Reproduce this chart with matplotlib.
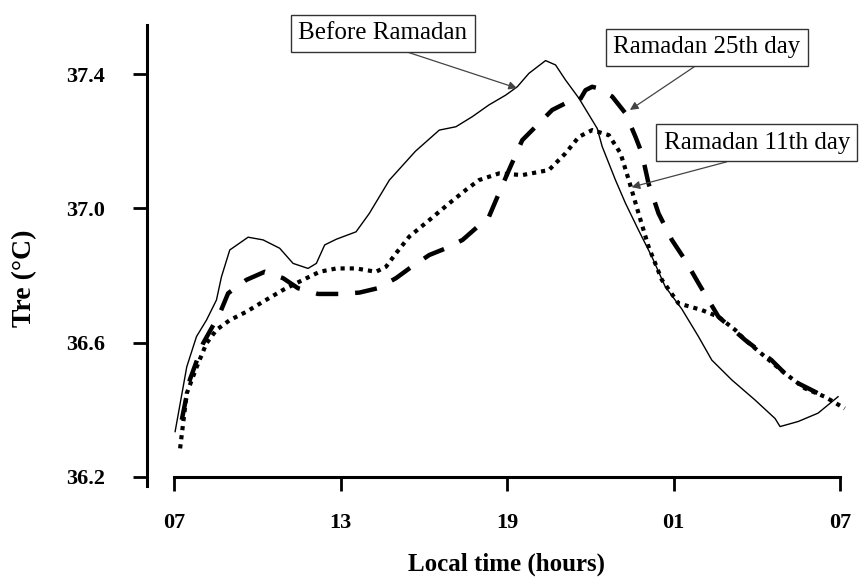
import matplotlib
matplotlib.use("Agg")
import matplotlib.pyplot as plt
import numpy as np

plt.rcParams['font.family'] = ['Liberation Serif', 'DejaVu Serif']

# hours after 07:00, rectal temperature (deg C)
hours_before = [0.04, 0.46, 0.81, 1.17, 1.53, 1.71, 2.01, 2.67, 3.21, 3.81, 4.29, 4.83,
                5.13, 5.43, 5.85, 6.56, 7.04, 7.76, 8.7, 9.56, 10.16, 10.75, 11.35, 11.95,
                12.37, 12.79, 13.39, 13.75, 14.11, 14.59, 15.25, 15.43, 15.67, 15.91, 16.27,
                16.74, 17.22, 17.70, 18.30, 18.90, 19.38, 20.10, 20.94, 21.66, 21.84, 22.49,
                23.21, 23.93]
temp_before = [36.335, 36.528, 36.618, 36.667, 36.727, 36.796, 36.876, 36.914, 36.906, 36.881,
               36.836, 36.821, 36.836, 36.891, 36.908, 36.930, 36.985, 37.084, 37.17, 37.233,
               37.243, 37.273, 37.308, 37.337, 37.362, 37.402, 37.440, 37.427, 37.382, 37.328,
               37.238, 37.184, 37.134, 37.084, 37.015, 36.935, 36.856, 36.767, 36.700, 36.618,
               36.548, 36.489, 36.429, 36.374, 36.350, 36.365, 36.390, 36.439]

hours_day25 = [0.28, 0.57, 1.05, 1.65, 1.95, 2.61, 3.27, 3.93, 4.47, 5.19, 5.96, 6.68, 7.34,
               8.00, 8.48, 9.20, 9.80, 10.40, 11.35, 11.71, 12.07, 12.55, 13.03, 13.63, 14.11,
               14.59, 14.83, 15.07, 15.31, 15.79, 16.27, 16.63, 16.86, 17.10, 17.46, 17.94,
               18.42, 18.90, 19.62, 20.58, 21.53, 22.25, 22.97, 23.69]
temp_day25 = [36.37, 36.489, 36.598, 36.687, 36.747, 36.787, 36.811, 36.792, 36.762, 36.745,
              36.745, 36.749, 36.762, 36.792, 36.821, 36.861, 36.881, 36.906, 36.975, 37.045,
              37.114, 37.203, 37.243, 37.293, 37.313, 37.318, 37.352, 37.362, 37.357, 37.333,
              37.283, 37.213, 37.164, 37.074, 36.985, 36.906, 36.846, 36.777, 36.677, 36.608,
              36.548, 36.489, 36.459, 36.429]

hours_day11 = [0.22, 0.46, 0.82, 1.17, 1.53, 2.01, 2.61, 3.21, 3.93, 4.65, 5.25, 5.85, 6.56,
               7.28, 7.64, 8.00, 8.48, 9.20, 9.92, 10.52, 10.99, 11.71, 12.55, 13.51, 14.11,
               14.59, 15.07, 15.67, 16.09, 16.39, 16.74, 17.10, 17.58, 18.18, 19.02, 19.62,
               20.22, 20.58, 21.30, 22.01, 22.73, 23.45, 24.17]
temp_day11 = [36.285, 36.449, 36.528, 36.598, 36.638, 36.667, 36.692, 36.722, 36.757, 36.787,
              36.811, 36.821, 36.821, 36.811, 36.826, 36.866, 36.916, 36.965, 37.015, 37.055,
              37.084, 37.104, 37.099, 37.114, 37.164, 37.213, 37.233, 37.218, 37.164, 37.084,
              36.985, 36.886, 36.787, 36.717, 36.697, 36.677, 36.638, 36.608, 36.558, 36.509,
              36.464, 36.439, 36.404]

x_ticks = [0, 6, 12, 18, 24]
x_labels = ['07', '13', '19', '01', '07']
y_ticks = [36.2, 36.6, 37.0, 37.4]
y_labels = ['36.2', '36.6', '37.0', '37.4']

fig = plt.figure(figsize=(8.59, 5.80), dpi=100)
ax = fig.add_axes([174 / 859, 94 / 580, 666 / 859, 461 / 580])

ax.plot(hours_before, temp_before, color='black', lw=1.0, clip_on=False)
ax.plot(hours_day25, temp_day25, color='black', lw=3.2, dashes=(5, 3.8), clip_on=False)
ax.plot(hours_day11, temp_day11, color='black', lw=3.0, dashes=(1.0, 1.2), clip_on=False)

ax.set_xlim(0, 24)
ax.set_ylim(36.173, 37.546)

ax.spines['top'].set_visible(False)
ax.spines['right'].set_visible(False)
ax.spines['left'].set_position(('outward', 19.5))
ax.spines['bottom'].set_position(('data', 36.2))
ax.spines['bottom'].set_bounds(0, 24)
ax.spines['left'].set_linewidth(2.2)
ax.spines['bottom'].set_linewidth(2.2)

ax.set_xticks(x_ticks)
ax.set_xticklabels(x_labels)
ax.set_yticks(y_ticks)
ax.set_yticklabels(y_labels)
ax.tick_params(axis='both', direction='out', length=10, width=2.0, labelsize=16)
ax.tick_params(axis='x', pad=16)
ax.tick_params(axis='y', pad=20)
for lab in ax.get_xticklabels() + ax.get_yticklabels():
    lab.set_fontweight('bold')

ax.set_xlabel('Local time (hours)', fontsize=18, fontweight='bold')
ax.xaxis.set_label_coords(0.5, -0.145)
ax.set_ylabel('Tre (°C)', fontsize=20, fontweight='bold')
ax.yaxis.set_label_coords(-0.205, 0.45)

box = dict(boxstyle='square,pad=0.3', fc='white', ec='#333333', lw=1.0)
arrow = dict(arrowstyle='-|>', color='#444444', lw=0.9, mutation_scale=12,
             relpos=(0.5, 0.0), shrinkA=0, shrinkB=0)

ax.annotate('Before Ramadan', xy=(12.36, 37.358), xytext=(7.53, 37.522),
            fontsize=18, ha='center', va='center', bbox=box, arrowprops=arrow,
            annotation_clip=False)
ax.annotate('Ramadan 25th day', xy=(16.43, 37.293), xytext=(19.21, 37.48),
            fontsize=18, ha='center', va='center', bbox=box, arrowprops=arrow,
            annotation_clip=False)
ax.annotate('Ramadan 11th day', xy=(16.49, 37.063), xytext=(21.0, 37.195),
            fontsize=18, ha='center', va='center', bbox=box, arrowprops=arrow,
            annotation_clip=False)

fig.savefig('out.png', dpi=100)
